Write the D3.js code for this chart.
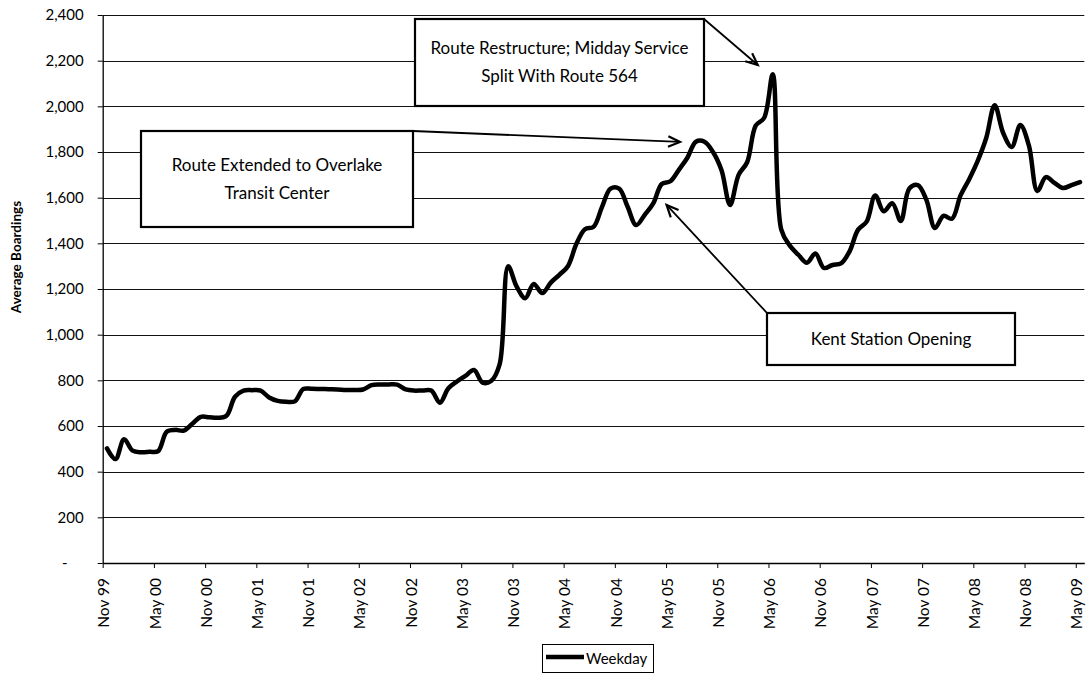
<!DOCTYPE html>
<html><head><meta charset="utf-8">
<script src="https://cdn.jsdelivr.net/npm/d3@7"></script>
<style>
html,body{margin:0;padding:0;background:#fff}
svg{display:block}
text{font-family:Lato,"Open Sans",sans-serif;fill:#000}
</style>
</head><body>
<svg id="c" width="1086" height="673"></svg>
<script>
// ---- data ----
const tickLabels = ["Nov 99","May 00","Nov 00","May 01","Nov 01","May 02","Nov 02","May 03","Nov 03","May 04",
                    "Nov 04","May 05","Nov 05","May 06","Nov 06","May 07","Nov 07","May 08","Nov 08","May 09"];
const tickMonths = [0,6,12,18,24,30,36,42,48,54,60,66,72,78,84,90,96,102,108,114];
const yTicks = [0,200,400,600,800,1000,1200,1400,1600,1800,2000,2200,2400];
const seriesName = "Weekday";
// monthly average weekday boardings, Nov 1999 .. May 2009
const weekday = [
  502,455,542,492,485,487,490,575,583,580,610,640,
  638,636,645,728,755,757,755,725,710,706,708,762,
  763,762,761,760,758,758,760,779,782,782,781,760,
  755,756,755,702,765,795,820,845,790,797,870,1300,
  1210,1160,1222,1182,1228,1262,1300,1398,1462,1472,1560,1640,
  1640,1560,1480,1525,1575,1660,1672,1722,1775,1845,1845,1800,
  1720,1568,1700,1755,1915,1950,2140,1460,1390,1350,1315,1355,
  1292,1305,1312,1365,1460,1495,1610,1540,1576,1498,1640,1655,
  1590,1467,1520,1508,1610,1680,1760,1860,2005,1883,1822,1918,
  1830,1629,1690,1665,1642,1655,1668
];
const annotations = [
  {lines:["Route Restructure; Midday Service","Split With Route 564"], box:[415,19,704,106], from:[704,19], tip:[76.74,2181]},
  {lines:["Route Extended to Overlake","Transit Center"], box:[141,131,413,227], from:[413,131], tip:[67.64,1844]},
  {lines:["Kent Station Opening"], box:[767,313,1015,365], from:[767,313], tip:[66.06,1568]}
];

// ---- chart ----
const svg = d3.select("#c");
const X0 = 102.7, X1 = 1084.3, Y0 = 563, Y1 = 15;
const x = d3.scaleLinear().domain([0,115]).range([X0,X1]);
const y = d3.scaleLinear().domain([0,2400]).range([Y0,Y1]);

// gridlines
svg.append("g").selectAll("line").data(yTicks.filter(d=>d>0)).join("line")
  .attr("x1",X0).attr("x2",X1)
  .attr("y1",d=>Math.round(y(d))+0.5).attr("y2",d=>Math.round(y(d))+0.5)
  .attr("stroke","#111").attr("stroke-width",1);

// y axis
const yAxis = svg.append("g").attr("transform",`translate(${X0},0)`)
  .call(d3.axisLeft(y).tickValues(yTicks).tickSize(5).tickSizeOuter(0).tickPadding(14)
    .tickFormat(d=> d===0 ? "-" : d3.format(",")(d)));
yAxis.selectAll("text").style("font-size","15px").attr("dx",d=>d===0?"-16":"0");
yAxis.select(".domain").attr("stroke","#000").attr("stroke-width",1.3);
yAxis.selectAll(".tick line").attr("stroke","#000");

// x axis
const xAxis = svg.append("g").attr("transform",`translate(0,${Y0})`)
  .call(d3.axisBottom(x).tickValues(tickMonths).tickSize(5).tickSizeOuter(0)
    .tickFormat((d,i)=>tickLabels[i]));
xAxis.selectAll("text").style("font-size","15.5px")
  .attr("transform","rotate(-90)").attr("x",-15).attr("y",0).attr("dy","0.4em")
  .style("text-anchor","end");
xAxis.select(".domain").attr("stroke","#000").attr("stroke-width",1.3);
xAxis.selectAll(".tick line").attr("stroke","#000");

// y title
svg.append("text").attr("transform","translate(21,257) rotate(-90)")
  .attr("text-anchor","middle").style("font-size","13.5px").style("font-weight","bold")
  .text("Average Boardings");

// series line
const line = d3.line().x((d,i)=>x(i+0.5)).y(d=>y(d)).curve(d3.curveCatmullRom.alpha(0.5));
svg.append("path").datum(weekday).attr("d",line)
  .attr("fill","none").attr("stroke","#000").attr("stroke-width",4.5)
  .attr("stroke-linejoin","round").attr("stroke-linecap","round");

// annotations
function arrow(g, x1, y1, x2, y2){
  g.append("line").attr("x1",x1).attr("y1",y1).attr("x2",x2).attr("y2",y2)
    .attr("stroke","#000").attr("stroke-width",1.8);
  const a = Math.atan2(y2-y1, x2-x1), L = 13, w = 0.42;
  const p = d3.path();
  p.moveTo(x2 - L*Math.cos(a-w), y2 - L*Math.sin(a-w));
  p.lineTo(x2, y2);
  p.lineTo(x2 - L*Math.cos(a+w), y2 - L*Math.sin(a+w));
  g.append("path").attr("d",p.toString()).attr("fill","none").attr("stroke","#000")
    .attr("stroke-width",2.2).attr("stroke-linejoin","miter");
}
const ag = svg.append("g");
annotations.forEach(a=>{
  const [bx0,by0,bx1,by1] = a.box;
  ag.append("rect").attr("x",bx0).attr("y",by0).attr("width",bx1-bx0).attr("height",by1-by0)
    .attr("fill","#fff").attr("stroke","#000").attr("stroke-width",2.2);
  const cx = (bx0+bx1)/2, cy = (by0+by1)/2, lh = 28;
  a.lines.forEach((t,i)=>{
    ag.append("text").attr("x",cx).attr("y",cy + (i-(a.lines.length-1)/2)*lh)
      .attr("dy","0.35em").attr("text-anchor","middle").style("font-size","17px").text(t);
  });
  arrow(ag, a.from[0], a.from[1], x(a.tip[0]), y(a.tip[1]));
});

// legend
const lg = svg.append("g");
lg.append("rect").attr("x",542.5).attr("y",644.5).attr("width",111).attr("height",28)
  .attr("fill","#fff").attr("stroke","#000").attr("stroke-width",1);
lg.append("line").attr("x1",546).attr("x2",584).attr("y1",657).attr("y2",657)
  .attr("stroke","#000").attr("stroke-width",4.5);
lg.append("text").attr("x",586).attr("y",664).style("font-size","15px").text(seriesName);
</script>
</body></html>
